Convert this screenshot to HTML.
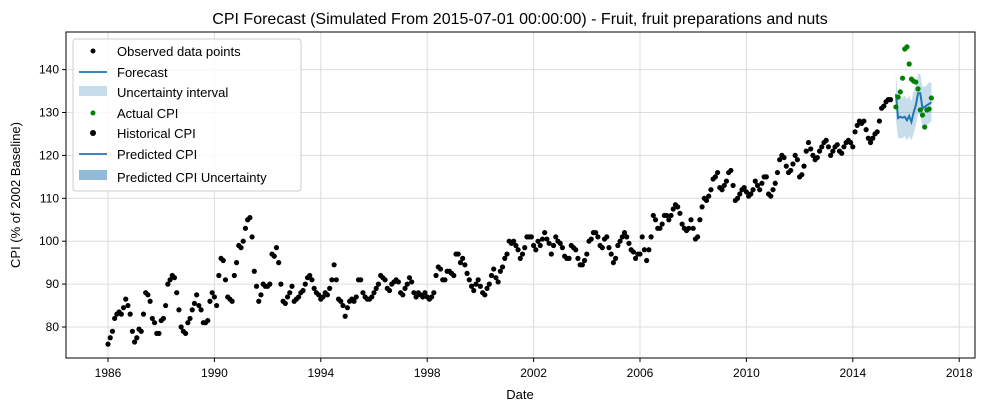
<!DOCTYPE html>
<html><head><meta charset="utf-8"><style>
body{margin:0;background:#fff;}
svg{display:block;font-family:"Liberation Sans","DejaVu Sans",sans-serif;}
</style></head><body>
<svg id="chart" width="987" height="412">
<rect x="0" y="0" width="987" height="412" fill="#fff"/>
<text x="520" y="24" text-anchor="middle" font-size="16">CPI Forecast (Simulated From 2015-07-01 00:00:00) - Fruit, fruit preparations and nuts</text>
<g id="grid"></g><g id="marks"></g>
<rect x="66" y="32" width="909" height="326" fill="none" stroke="#000" stroke-width="1"/>
<g id="axes"></g>
<text x="520" y="399" text-anchor="middle" font-size="13">Date</text>
<text transform="translate(20,195) rotate(-90)" text-anchor="middle" font-size="13">CPI (% of 2002 Baseline)</text>
<g>
<rect x="73" y="39" width="228" height="152" rx="3" fill="#fff" fill-opacity="0.85" stroke="#ccc"/>
<circle cx="93" cy="51" r="2.5" fill="#000"/><text x="117" y="56" font-size="13">Observed data points</text>
<line x1="79" y1="72" x2="107" y2="72" stroke="#1f77b4" stroke-width="1.8"/><text x="117" y="77" font-size="13">Forecast</text>
<rect x="79" y="86" width="28" height="10" fill="#1f77b4" fill-opacity="0.25"/><text x="117" y="97" font-size="13">Uncertainty interval</text>
<circle cx="93" cy="113" r="2.5" fill="green"/><text x="117" y="118" font-size="13">Actual CPI</text>
<circle cx="93" cy="133" r="3" fill="#000"/><text x="117" y="138" font-size="13">Historical CPI</text>
<line x1="79" y1="154" x2="107" y2="154" stroke="#1f77b4" stroke-width="1.8"/><text x="117" y="159" font-size="13">Predicted CPI</text>
<rect x="79" y="170" width="28" height="10" fill="#1f77b4" fill-opacity="0.5"/><text x="117" y="182" font-size="13">Predicted CPI Uncertainty</text>
</g>
</svg>
<script>
const histStart = 1986;
const histValues = [
76,77.5,79,82,83,83.5,83,84.5,86.5,85,83,79,
76.5,77.5,79.5,79,83,88,87.5,86,82,81,78.5,78.5,
81.5,82,85,90,91,92,91.5,88,84,80,79,78.5,
81,82,84,85.5,87.5,85,84,81,81,81.5,86,88,
87,85,92,96,95.5,91,87,86.5,86,92,95,99,
98.5,100,103,105,105.5,101,93,89.5,86,87.5,90,89.5,
89.5,90,97,96.5,98.5,95,90,86,85.5,87,88,89.5,
86,86.5,87,88,88.5,90,91.5,92,91,89,88,87.5,
86.5,87,88,87.5,89,91,94.5,91,86.5,86,85,82.5,
84.5,86,86.5,86,87,91,91,88,87,86.5,86.5,87,
88,89,90,92,91.5,91,89,88.5,90,90.5,91,90.5,
88,87.5,89,90,91.5,90.5,88,87,88,87.5,87,88,
87,86.5,87,88,92,94,93.5,91,91,93,93,92.5,
92,97,97,95,96,94.5,92.5,91,89.5,88.5,90,91,
89.5,88,87.5,89,90,92,93.5,91.5,90.5,93,94,96,
97,100,99.5,100,99,98,96,97,98.5,101,101,101,
99,98,100,99,100.5,102,100.5,99.5,97,99,101,100,
99.5,98.5,96.5,96,96,99,98.5,98,96,94.5,94.5,95.5,
97,100,100.5,102,102,101,99,98.5,100.5,101,98.5,97,
95,96,99,100,101,102,101,99.5,98,97.5,96,97,
97,101,98,95.5,98,101,106,105,103,103,104,106,
106,105,106,107.5,108.5,108,106.5,104,103,102.5,103,105,
103,100.5,101,105,108,110,109.5,110.5,112,114.5,115,116,
112.5,112,113,114,116,116.5,113,109.5,110,111,112,112.5,
111.5,110.5,111,112,114,113,112,113.5,115,115,111,110.5,
112,113.5,116,119,120,119.5,117.5,116,116.5,118,120,119,
115,115.5,117.5,121,123,121.5,120,119,119.5,121,122,123,
123.5,122,120,121,122,122.5,121,120.5,122,123,123.5,123,
122,125.5,127,128,127.5,128,126,124,123,124,125,125.5,
128,131,131.5,132.5,133,133];
const fcStart = 2015.62;
const actualValues = [131.3,133.6,134.8,138,144.8,145.3,141.3,137.8,137.3,137.1,135.5,130.6,129.4,126.6,130.6,130.8,133.4];
const forecastValues = [134.3,128.7,129,128.8,129,128.2,129.2,127.8,130,131.7,134.5,134.5,131,131.3,131.7,132,132.4];
const forecastLower = [128.5,124,124,124,124.5,123.5,124.5,123.5,125,127,129.5,129.5,126.5,126.5,127,127.5,128];
const forecastUpper = [139,133.5,133.5,133.5,134,133,134,132.5,135,136.5,139,139,136,136,136.5,137,137];
const xTicks = [1986,1990,1994,1998,2002,2006,2010,2014,2018];
const yTicks = [80,90,100,110,120,130,140];

const NS="http://www.w3.org/2000/svg";
const X=t=>108+(t-1986)*26.6;
const Y=v=>327-(v-80)*4.29;
function mk(tag,attrs,parent){const e=document.createElementNS(NS,tag);for(const k in attrs)e.setAttribute(k,attrs[k]);parent.appendChild(e);return e;}
const grid=document.getElementById('grid'),marks=document.getElementById('marks'),axes=document.getElementById('axes');
xTicks.forEach(t=>{
  const x=X(t);
  const g=mk('line',{x1:x,x2:x,y1:32,y2:358,stroke:'#ddd','stroke-width':1},grid);
  
  
  mk('line',{x1:x,x2:x,y1:358,y2:362,stroke:'#000'},axes);
  const l=mk('text',{x:x,y:377,'text-anchor':'middle','font-size':12},axes);l.textContent=t;
  
  
});
yTicks.forEach(v=>{
  const y=Y(v);
  const g=mk('line',{x1:66,x2:975,y1:y,y2:y,stroke:'#ddd','stroke-width':1},grid);
  
  
  mk('line',{x1:62,x2:66,y1:y,y2:y,stroke:'#000'},axes);
  const l=mk('text',{x:59,y:y+4,'text-anchor':'end','font-size':12},axes);l.textContent=v;
  
  
});
histValues.forEach((v,i)=>{
  const c=mk('circle',{cx:X(histStart+i/12),cy:Y(v),r:2.6,fill:'#000'},marks);
  
  
});
let up=forecastUpper.map((v,i)=>X(fcStart+i/12)+','+Y(v));
let lo=forecastLower.map((v,i)=>X(fcStart+i/12)+','+Y(v)).reverse();
const band=mk('polygon',{points:up.concat(lo).join(' '),fill:'#1f77b4','fill-opacity':0.25},marks);


const line=mk('polyline',{points:forecastValues.map((v,i)=>X(fcStart+i/12)+','+Y(v)).join(' '),fill:'none',stroke:'#1f77b4','stroke-width':2},marks);


actualValues.forEach((v,i)=>{
  const c=mk('circle',{cx:X(fcStart+i/12),cy:Y(v),r:2.6,fill:'green'},marks);
  
  
});
</script>
</body></html>
